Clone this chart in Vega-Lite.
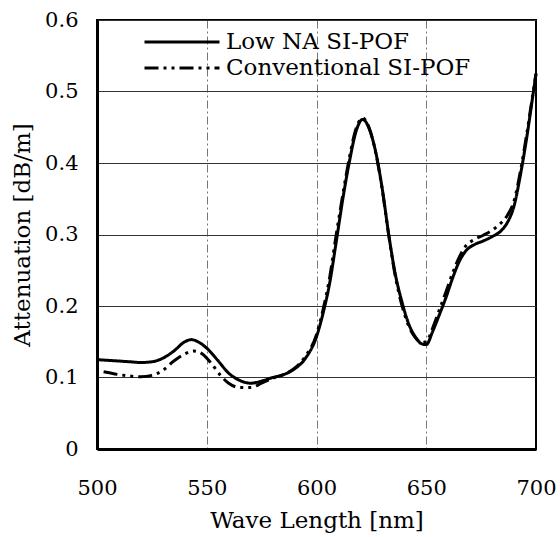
{
  "$schema": "https://vega.github.io/schema/vega-lite/v6.json",
  "width": 439,
  "height": 429,
  "autosize": {"type": "none"},
  "padding": {"left": 97, "top": 20, "right": 24, "bottom": 88},
  "background": "white",
  "config": {
    "font": "DejaVu Serif",
    "view": {"stroke": "black", "strokeWidth": 2},
    "axis": {"labelFont": "DejaVu Serif", "titleFont": "DejaVu Serif", "labelColor": "black", "titleColor": "black", "titleFontWeight": "normal"}
  },
  "data": {
    "values": [
      {"series": "Low NA SI-POF", "wl": 500, "att": 0.125},
      {"series": "Low NA SI-POF", "wl": 505, "att": 0.124},
      {"series": "Low NA SI-POF", "wl": 510, "att": 0.123},
      {"series": "Low NA SI-POF", "wl": 515, "att": 0.122},
      {"series": "Low NA SI-POF", "wl": 520, "att": 0.121},
      {"series": "Low NA SI-POF", "wl": 525, "att": 0.122},
      {"series": "Low NA SI-POF", "wl": 530, "att": 0.127},
      {"series": "Low NA SI-POF", "wl": 535, "att": 0.137},
      {"series": "Low NA SI-POF", "wl": 540, "att": 0.150},
      {"series": "Low NA SI-POF", "wl": 543, "att": 0.153},
      {"series": "Low NA SI-POF", "wl": 546, "att": 0.150},
      {"series": "Low NA SI-POF", "wl": 550, "att": 0.141},
      {"series": "Low NA SI-POF", "wl": 555, "att": 0.124},
      {"series": "Low NA SI-POF", "wl": 560, "att": 0.106},
      {"series": "Low NA SI-POF", "wl": 565, "att": 0.096},
      {"series": "Low NA SI-POF", "wl": 570, "att": 0.092},
      {"series": "Low NA SI-POF", "wl": 575, "att": 0.095},
      {"series": "Low NA SI-POF", "wl": 580, "att": 0.100},
      {"series": "Low NA SI-POF", "wl": 585, "att": 0.104},
      {"series": "Low NA SI-POF", "wl": 590, "att": 0.112},
      {"series": "Low NA SI-POF", "wl": 595, "att": 0.127},
      {"series": "Low NA SI-POF", "wl": 600, "att": 0.157},
      {"series": "Low NA SI-POF", "wl": 603, "att": 0.190},
      {"series": "Low NA SI-POF", "wl": 606, "att": 0.232},
      {"series": "Low NA SI-POF", "wl": 609, "att": 0.290},
      {"series": "Low NA SI-POF", "wl": 612, "att": 0.350},
      {"series": "Low NA SI-POF", "wl": 615, "att": 0.402},
      {"series": "Low NA SI-POF", "wl": 618, "att": 0.444},
      {"series": "Low NA SI-POF", "wl": 621, "att": 0.461},
      {"series": "Low NA SI-POF", "wl": 624, "att": 0.448},
      {"series": "Low NA SI-POF", "wl": 627, "att": 0.415},
      {"series": "Low NA SI-POF", "wl": 630, "att": 0.363},
      {"series": "Low NA SI-POF", "wl": 633, "att": 0.298},
      {"series": "Low NA SI-POF", "wl": 636, "att": 0.243},
      {"series": "Low NA SI-POF", "wl": 639, "att": 0.205},
      {"series": "Low NA SI-POF", "wl": 642, "att": 0.175},
      {"series": "Low NA SI-POF", "wl": 645, "att": 0.157},
      {"series": "Low NA SI-POF", "wl": 648, "att": 0.147},
      {"series": "Low NA SI-POF", "wl": 650, "att": 0.146},
      {"series": "Low NA SI-POF", "wl": 653, "att": 0.165},
      {"series": "Low NA SI-POF", "wl": 656, "att": 0.188},
      {"series": "Low NA SI-POF", "wl": 659, "att": 0.212},
      {"series": "Low NA SI-POF", "wl": 662, "att": 0.239},
      {"series": "Low NA SI-POF", "wl": 665, "att": 0.262},
      {"series": "Low NA SI-POF", "wl": 668, "att": 0.277},
      {"series": "Low NA SI-POF", "wl": 672, "att": 0.286},
      {"series": "Low NA SI-POF", "wl": 676, "att": 0.291},
      {"series": "Low NA SI-POF", "wl": 680, "att": 0.297},
      {"series": "Low NA SI-POF", "wl": 684, "att": 0.305},
      {"series": "Low NA SI-POF", "wl": 687, "att": 0.317},
      {"series": "Low NA SI-POF", "wl": 690, "att": 0.340},
      {"series": "Low NA SI-POF", "wl": 693, "att": 0.385},
      {"series": "Low NA SI-POF", "wl": 696, "att": 0.440},
      {"series": "Low NA SI-POF", "wl": 698, "att": 0.482},
      {"series": "Low NA SI-POF", "wl": 700, "att": 0.525},
      {"series": "Conventional SI-POF", "wl": 503, "att": 0.108},
      {"series": "Conventional SI-POF", "wl": 510, "att": 0.104},
      {"series": "Conventional SI-POF", "wl": 515, "att": 0.102},
      {"series": "Conventional SI-POF", "wl": 520, "att": 0.101},
      {"series": "Conventional SI-POF", "wl": 525, "att": 0.103},
      {"series": "Conventional SI-POF", "wl": 530, "att": 0.110},
      {"series": "Conventional SI-POF", "wl": 535, "att": 0.123},
      {"series": "Conventional SI-POF", "wl": 540, "att": 0.133},
      {"series": "Conventional SI-POF", "wl": 544, "att": 0.137},
      {"series": "Conventional SI-POF", "wl": 548, "att": 0.133},
      {"series": "Conventional SI-POF", "wl": 552, "att": 0.120},
      {"series": "Conventional SI-POF", "wl": 556, "att": 0.104},
      {"series": "Conventional SI-POF", "wl": 560, "att": 0.092},
      {"series": "Conventional SI-POF", "wl": 565, "att": 0.086},
      {"series": "Conventional SI-POF", "wl": 570, "att": 0.086},
      {"series": "Conventional SI-POF", "wl": 575, "att": 0.092},
      {"series": "Conventional SI-POF", "wl": 580, "att": 0.099},
      {"series": "Conventional SI-POF", "wl": 585, "att": 0.104},
      {"series": "Conventional SI-POF", "wl": 590, "att": 0.113},
      {"series": "Conventional SI-POF", "wl": 595, "att": 0.130},
      {"series": "Conventional SI-POF", "wl": 600, "att": 0.160},
      {"series": "Conventional SI-POF", "wl": 603, "att": 0.195},
      {"series": "Conventional SI-POF", "wl": 606, "att": 0.240},
      {"series": "Conventional SI-POF", "wl": 609, "att": 0.300},
      {"series": "Conventional SI-POF", "wl": 612, "att": 0.356},
      {"series": "Conventional SI-POF", "wl": 615, "att": 0.408},
      {"series": "Conventional SI-POF", "wl": 618, "att": 0.448},
      {"series": "Conventional SI-POF", "wl": 621, "att": 0.463},
      {"series": "Conventional SI-POF", "wl": 624, "att": 0.449},
      {"series": "Conventional SI-POF", "wl": 627, "att": 0.414},
      {"series": "Conventional SI-POF", "wl": 630, "att": 0.362},
      {"series": "Conventional SI-POF", "wl": 633, "att": 0.297},
      {"series": "Conventional SI-POF", "wl": 636, "att": 0.240},
      {"series": "Conventional SI-POF", "wl": 639, "att": 0.200},
      {"series": "Conventional SI-POF", "wl": 642, "att": 0.172},
      {"series": "Conventional SI-POF", "wl": 645, "att": 0.156},
      {"series": "Conventional SI-POF", "wl": 648, "att": 0.149},
      {"series": "Conventional SI-POF", "wl": 650, "att": 0.150},
      {"series": "Conventional SI-POF", "wl": 653, "att": 0.170},
      {"series": "Conventional SI-POF", "wl": 656, "att": 0.195},
      {"series": "Conventional SI-POF", "wl": 659, "att": 0.220},
      {"series": "Conventional SI-POF", "wl": 662, "att": 0.246},
      {"series": "Conventional SI-POF", "wl": 665, "att": 0.268},
      {"series": "Conventional SI-POF", "wl": 668, "att": 0.284},
      {"series": "Conventional SI-POF", "wl": 672, "att": 0.293},
      {"series": "Conventional SI-POF", "wl": 676, "att": 0.299},
      {"series": "Conventional SI-POF", "wl": 680, "att": 0.306},
      {"series": "Conventional SI-POF", "wl": 684, "att": 0.316},
      {"series": "Conventional SI-POF", "wl": 687, "att": 0.327},
      {"series": "Conventional SI-POF", "wl": 690, "att": 0.347},
      {"series": "Conventional SI-POF", "wl": 693, "att": 0.390},
      {"series": "Conventional SI-POF", "wl": 696, "att": 0.445},
      {"series": "Conventional SI-POF", "wl": 698, "att": 0.485},
      {"series": "Conventional SI-POF", "wl": 700, "att": 0.525}
    ]
  },
  "mark": {"type": "line", "color": "black", "strokeWidth": 3, "interpolate": "monotone"},
  "encoding": {
    "x": {
      "field": "wl", "type": "quantitative",
      "scale": {"domain": [500, 700], "nice": false, "zero": false},
      "axis": {
        "title": "Wave Length [nm]", "values": [500, 550, 600, 650, 700],
        "labelFontSize": 21, "titleFontSize": 23, "labelPadding": 28, "titlePadding": 11,
        "labelFlush": false, "labelOverlap": false,
        "ticks": false, "domainColor": "black", "domainWidth": 3,
        "gridColor": "#777", "gridDash": [8, 3, 2, 3], "gridWidth": 1,
        "gridOpacity": {"condition": {"test": "datum.value == 500 || datum.value == 700", "value": 0}, "value": 1}
      }
    },
    "y": {
      "field": "att", "type": "quantitative",
      "scale": {"domain": [0, 0.6], "nice": false},
      "axis": {
        "title": "Attenuation [dB/m]", "values": [0, 0.1, 0.2, 0.3, 0.4, 0.5, 0.6],
        "labelExpr": "datum.value == 0 ? '0' : format(datum.value, '.1f')",
        "labelFontSize": 21, "titleFontSize": 23, "labelPadding": 19, "titlePadding": 10,
        "labelFlush": false, "labelOverlap": false,
        "ticks": false, "domainColor": "black", "domainWidth": 3,
        "gridColor": "#333", "gridWidth": 1
      }
    },
    "strokeDash": {
      "field": "series", "type": "nominal",
      "scale": {"domain": ["Low NA SI-POF", "Conventional SI-POF"], "range": [[1, 0], [14, 5, 3, 5, 3, 5]]},
      "legend": {
        "title": null, "orient": "none", "legendX": 71, "legendY": 8,
        "symbolType": "M-3,0H3", "symbolSize": 625, "symbolStrokeWidth": 3, "symbolStrokeColor": "black",
        "labelFontSize": 23, "labelFont": "DejaVu Serif", "labelColor": "black", "labelOffset": 30,
        "rowPadding": 0, "labelLimit": 400
      }
    }
  }
}
